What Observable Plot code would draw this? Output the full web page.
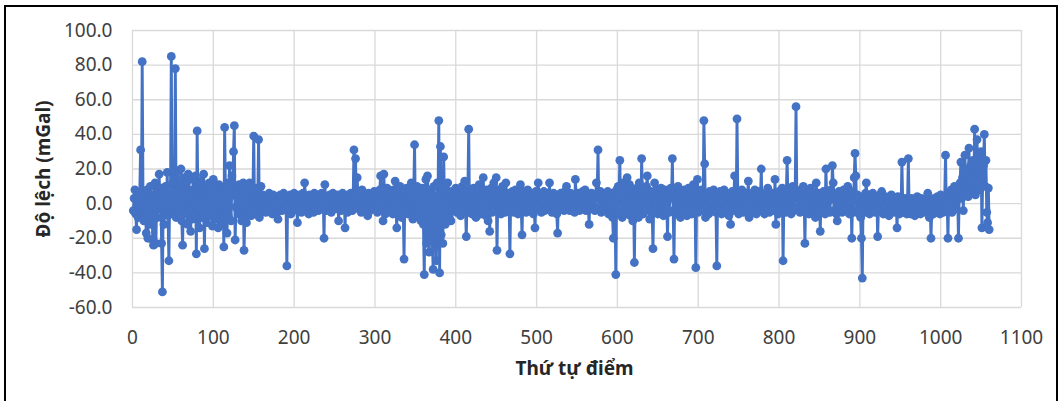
<!DOCTYPE html>
<html>
<head>
<meta charset="utf-8">
<script src="https://cdn.jsdelivr.net/npm/d3@7"></script>
<script src="https://cdn.jsdelivr.net/npm/@observablehq/plot@0.6"></script>
<style>
  html, body { margin: 0; padding: 0; background: #fff; }
  #wrap { position: relative; width: 1063px; height: 401px; overflow: hidden; }
  #frame { position: absolute; left: 4px; top: 5px; width: 1054px; height: 420px; border: 2px solid #000; box-sizing: border-box; pointer-events: none; }
</style>
</head>
<body>
<div id="wrap"><div id="frame"></div></div>
<script>
// Deviation values (mGal), point order 1..1060
const dev0001_0200 = [
  -4, 3, 8, -6, -15, 5, -8, 2, 6, 31, -5, 82, 4, -10, 6, -3, -17, 8, -20, 2,
  -6, 10, -12, 5, -21, -24, 3, 12, -23, 7, -8, 4, 17, -3, 9, -23, -51, 6, -12, 3,
  10, -5, 18, -7, -33, 5, 2, 85, -4, 12, -6, 8, 78, -8, 4, 19, -5, 10, -2, 20,
  -10, -24, 7, 15, -6, 3, 12, -12, 17, -3, 8, -16, 5, -9, 14, 2, -7, 16, -29, 42,
  -3, 10, -14, 6, 13, -8, 4, 17, -26, 2, 9, -11, 5, -4, 12, -7, 3, 8, -13, 14,
  -5, 6, 10, -9, 3, -14, 11, -2, 7, -12, 5, 9, -25, 44, 6, -6, -17, 12, -8, 22,
  4, -10, 16, 8, 30, 45, -21, -2, 9, 5, -6, 11, -4, 8, -10, 3, 12, -27, -9, 6,
  -11, 10, 2, -5, 12, 3, -7, 8, 4, 39, -3, 5, -6, 9, 2, 37, -8, 4, 10, -4,
  5, -2, 3, 1, -5, 4, -3, 2, 6, -4, 1, 3, -6, 5, 0, -3, 4, 2, -5, -9,
  3, -2, 5, 4, -4, 1, 6, -3, 2, -1, -36, 4, -2, 3, 5, -6, 2, 0, -4, 6
];
const dev0201_0400 = [
  -3, 2, 4, -11, 3, -2, 5, 1, -5, 3, 6, -2, 12, 4, -4, 2, 3, -6, 5, 1,
  -3, 4, 2, -5, 6, 3, -2, 1, 4, -4, 5, 2, -3, 6, -1, 3, -20, 11, 2, -4,
  4, 1, -3, 5, 2, -5, 3, 6, -2, 0, 4, -3, 2, 5, -10, 1, 3, -4, 2, 6,
  -2, 4, -14, 3, 1, -5, 5, 2, -3, 6, 1, -4, 3, 31, 5, 26, -2, 15, 4, -3,
  6, 2, -5, 8, 1, -3, 5, 3, -2, 4, -7, 6, 2, -4, 3, 5, -2, 1, 7, -3,
  2, 6, -5, 3, 1, 8, 16, -3, 4, -10, 17, 2, -6, 5, 9, -4, 3, 7, -2, 5,
  1, -6, 8, 4, 13, -3, -14, 6, 2, -5, 10, 3, -8, 5, -2, -32, 7, -4, 9, 2,
  -6, 4, 8, -3, 12, 2, -9, 6, 34, -5, 3, 10, -7, 5, -3, 8, -10, 4, 9, -12,
  -41, 6, 14, -23, 16, 3, -28, 8, -15, 5, -20, -38, 10, -25, 4, -33, 12, 3, 48, -40,
  33, -18, 6, -23, 27, 4, -12, 8, -6, 12, 2, -8, 5, -10, 7, 3, -4, 6, -2, 9
];
const dev0401_0600 = [
  -5, 3, 8, -3, 5, -7, 2, 10, -4, 6, 13, -2, -19, 4, 8, 43, -5, 3, 7, -6,
  4, 9, -3, 6, -8, 2, 5, -4, 11, 3, -6, 7, 2, 15, -3, 5, -7, 8, 1, -10,
  6, -16, 3, 9, -5, 4, 12, -3, 6, 15, -27, 4, -4, 8, 2, -6, 5, 10, -3, 4,
  -5, 12, 3, -4, 6, 1, -29, 4, -3, 7, 2, -5, 5, 8, -2, 3, -6, 6, 1, 11,
  -3, -18, 4, 7, -2, 5, -5, 3, 8, -3, 2, 6, -4, 1, 5, -6, 3, -14, 7, 2,
  -3, 12, 4, -2, 6, -5, 3, 1, 7, -4, 2, 5, -3, 6, 1, 12, -2, 4, -5, 3,
  6, -2, 1, 4, -6, -17, 5, 2, -3, 6, 3, -1, 4, -4, 7, 2, 10, -3, 5, 1,
  -4, 6, 3, -2, 5, 1, -5, 14, 4, -2, 6, 3, -4, 2, 5, -3, 7, 1, -2, 8,
  -4, 3, 5, -2, -12, 4, 1, 6, -3, 2, 5, -4, 3, 12, 6, 31, -2, 4, 7, -5,
  3, 6, -3, 1, 5, -4, 2, 7, -6, 3, 4, -5, 6, -8, -20, 5, 2, -41, 8, -6
];
const dev0601_0800 = [
  10, 4, 25, -5, 7, -8, 12, 3, -6, 9, 2, 15, -4, 6, 11, -7, 3, 8, -10, 5,
  -34, 6, -3, 9, 2, -8, 12, 4, -5, 26, 3, -6, 8, 2, -4, 10, 16, -3, 5, -9,
  7, 2, -5, -26, 4, 12, -3, 8, 1, -6, 6, 3, -4, 9, -2, 5, -7, 4, 8, -3,
  2, -19, 6, -5, 3, 9, 4, 26, -4, -32, 7, 2, -6, 5, 10, -3, 3, -8, 6, 1,
  -5, 4, 8, -2, 5, -7, 3, 9, -4, 6, 2, -6, 4, 11, -3, 7, -37, 2, 14, -5,
  6, 3, -4, 8, 2, -3, 48, 23, -8, 5, -2, 4, -6, 7, 3, -4, 5, 1, 8, -3,
  4, -5, -36, 6, 2, -3, 7, 3, -6, 5, 1, 8, -4, 3, 6, -2, 4, -7, 5, -12,
  3, 7, -4, 2, 16, 5, -3, 49, 4, -6, 6, 2, -4, 8, 3, -5, 5, 1, -2, 6,
  3, 13, -8, 4, 1, -5, 6, 2, -3, 8, 4, -6, 5, 2, -4, 7, 3, 20, -3, 5,
  2, -6, 6, 3, -2, 9, 4, -5, 5, 1, -3, 6, 2, -4, 14, -12, 5, 3, -6, 7
];
const dev0801_1000 = [
  2, -4, 6, 9, -33, 4, 1, -5, 6, 25, 3, -3, 8, 2, -6, 5, 10, -4, 3, 7,
  56, 4, -2, 6, 3, -5, 8, 2, -4, 10, 6, -23, 4, -3, 7, 2, -6, 5, 9, -4,
  3, 6, -2, 4, -8, 12, 2, -5, 6, 3, -16, 5, 1, -4, 7, 3, -6, 20, 4, -3,
  6, 2, -5, 8, 3, 22, 12, -4, 5, 2, -6, -10, 4, 7, -3, 3, 6, -5, 2, 8,
  -4, 3, 5, -2, 10, 4, -6, 2, 7, -20, 3, -5, 15, 29, 16, -4, 5, 2, -6, 3,
  -8, -20, -43, 4, 2, -5, 6, 12, -3, 4, 1, -6, 5, 2, -4, 6, -2, 3, -5, 1,
  4, -19, -3, 2, 5, -4, 7, 1, -6, 3, -2, 4, -5, 2, 3, -7, 1, -3, 5, -2,
  2, -5, 3, -3, 1, -14, 4, -2, -6, 3, -4, 24, 2, -5, 1, 3, -3, -6, 2, 26,
  -4, 1, -6, 3, -2, -5, 2, -7, 0, -3, 4, -5, 1, -2, -6, 3, -4, 0, -3, 2,
  -5, -2, 1, 6, -4, -8, 2, -20, -3, 1, -6, 3, -2, -5, 0, 4, -4, -1, -6, 5
];
const dev1001_1060 = [
  -3, 2, -5, 1, 4, 28, -4, 2, -20, 6, -2, 3, 8, -5, 4, 1, 10, -3, 6, 2,
  5, -20, 8, 12, 24, 3, 15, -4, 20, 28, 6, 10, 18, 4, 32, 12, 22, 8, 15, 25,
  10, 43, 5, 20, 37, 12, 28, 8, 18, 30, -14, 15, 22, 40, 10, 25, -5, -11, 9, -15
];
const xTicks = [0, 100, 200, 300, 400, 500, 600, 700, 800, 900, 1000, 1100];
const yTicks = [-60, -40, -20, 0, 20, 40, 60, 80, 100];
const xTitle = "Thứ tự điểm";
const yTitle = "Độ lệch (mGal)";

const values = [].concat(dev0001_0200, dev0201_0400, dev0401_0600, dev0601_0800, dev0801_1000, dev1001_1060);
const data = values.map((v, i) => ({idx: i + 1, dev: v}));

const blue = "#4472C4";
const W = 1063, H = 401, mL = 132, mR = 42, mT = 30, mB = 94;

const chart = Plot.plot({
  width: W, height: H,
  marginLeft: mL, marginRight: mR, marginTop: mT, marginBottom: mB,
  style: {fontFamily: "'Noto Sans', sans-serif", fontSize: "19px", color: "#404040", background: "transparent"},
  x: {domain: [0, 1100], ticks: xTicks},
  y: {domain: [-60, 100], ticks: yTicks},
  marks: [
    Plot.gridX(xTicks, {stroke: "#d9d9d9", strokeOpacity: 1, strokeWidth: 1.3}),
    Plot.gridY(yTicks, {stroke: "#d9d9d9", strokeOpacity: 1, strokeWidth: 1.3}),
    Plot.line(data, {x: "idx", y: "dev", stroke: blue, strokeWidth: 2.9, strokeLinejoin: "round"}),
    Plot.dot(data, {x: "idx", y: "dev", r: 4.4, fill: blue, stroke: "none"}),
    Plot.axisX(xTicks, {tickSize: 0, tickPadding: 23, label: null, tickFormat: d => String(d)}),
    Plot.axisY(yTicks, {tickSize: 0, tickPadding: 20, label: null, tickFormat: d => d.toFixed(1)})
  ]
});

const svg = d3.select(chart);
svg.append("text")
  .attr("x", (mL + (W - mR)) / 2 - 2).attr("y", 375)
  .attr("text-anchor", "middle")
  .attr("font-family", "'Noto Sans', sans-serif").attr("font-size", 19).attr("font-weight", "bold")
  .attr("fill", "#262626")
  .text(xTitle);
svg.append("text")
  .attr("transform", "translate(50,169) rotate(-90)")
  .attr("text-anchor", "middle")
  .attr("font-family", "'Noto Sans', sans-serif").attr("font-size", 19).attr("font-weight", "bold")
  .attr("fill", "#262626")
  .text(yTitle);

chart.style.position = "absolute";
chart.style.left = "0px";
chart.style.top = "0px";
document.getElementById("wrap").insertBefore(chart, document.getElementById("frame"));
</script>
</body>
</html>
